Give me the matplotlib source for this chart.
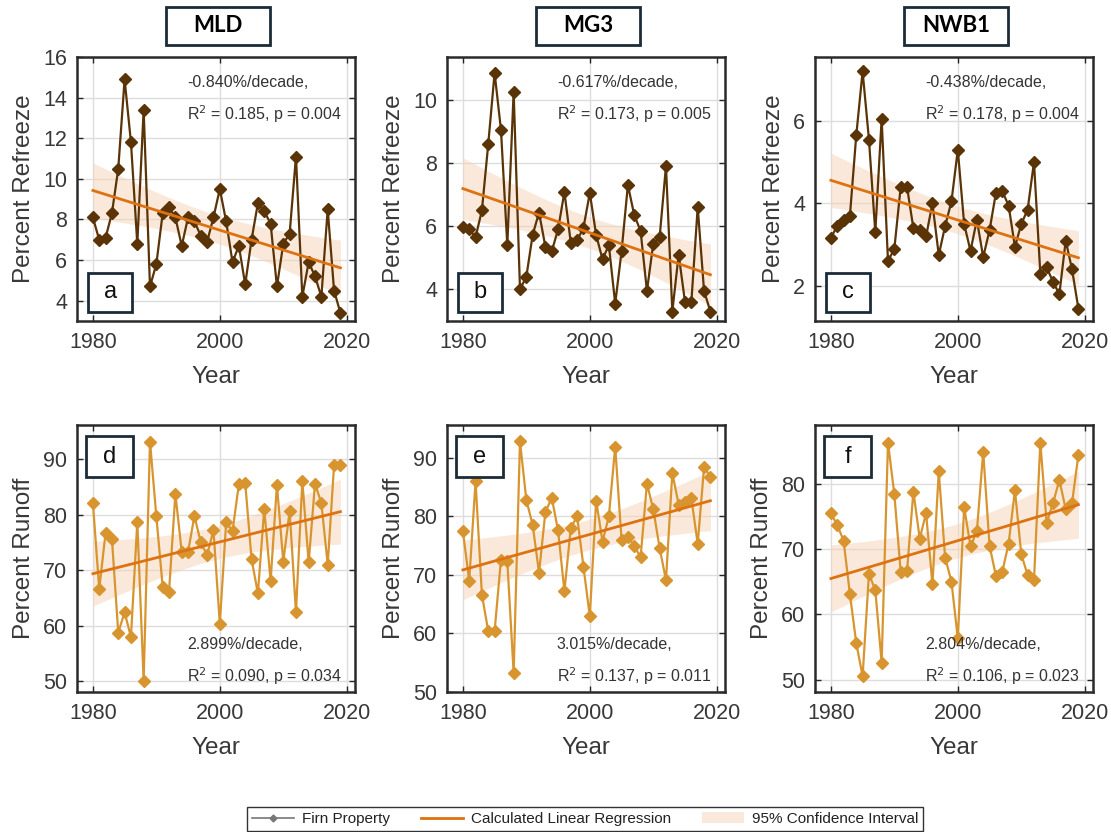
import numpy as np
import matplotlib
matplotlib.use('Agg')
import matplotlib.pyplot as plt
from matplotlib.lines import Line2D
from matplotlib.patches import Patch, Rectangle


# ----------------- Data -----------------
years = np.arange(1980, 2020)

refreeze_mld = [8.1, 7.0, 7.1, 8.3, 10.5, 14.9, 11.8, 6.8, 13.4, 4.7,
                5.8, 8.3, 8.6, 8.1, 6.7, 8.1, 7.9, 7.2, 6.9, 8.1,
                9.5, 7.9, 5.9, 6.7, 4.8, 7.0, 8.8, 8.4, 7.8, 4.7,
                6.8, 7.3, 11.1, 4.2, 5.9, 5.2, 4.2, 8.5, 4.5, 3.4]
refreeze_mg3 = [5.97, 5.9, 5.65, 6.5, 8.6, 10.85, 9.05, 5.4, 10.25, 4.0,
                4.4, 5.73, 6.43, 5.35, 5.2, 5.9, 7.08, 5.48, 5.55, 5.95,
                7.05, 5.72, 4.95, 5.4, 3.55, 5.2, 7.3, 6.35, 5.85, 3.95,
                5.45, 5.65, 7.9, 3.3, 5.1, 3.6, 3.6, 6.6, 3.95, 3.3]
refreeze_nwb1 = [3.17, 3.45, 3.6, 3.7, 5.65, 7.2, 5.55, 3.3, 6.05, 2.6,
                 2.9, 4.4, 4.4, 3.4, 3.35, 3.2, 4.0, 2.75, 3.45, 4.05,
                 5.3, 3.5, 2.85, 3.6, 2.7, 3.35, 4.25, 4.3, 3.95, 2.95,
                 3.5, 3.85, 5.0, 2.3, 2.45, 2.1, 1.8, 3.1, 2.4, 1.45]

runoff_mld = [82.2, 66.6, 76.7, 75.7, 58.7, 62.4, 57.9, 78.7, 50.0, 93.2,
              79.7, 67.0, 66.1, 83.8, 73.3, 73.3, 79.8, 75.0, 72.7, 77.2,
              60.3, 78.7, 77.0, 85.5, 85.8, 72.0, 65.8, 81.1, 68.0, 85.4,
              71.5, 80.7, 62.4, 86.1, 71.4, 85.6, 82.1, 71.0, 88.9, 88.9]
runoff_mg3 = [77.5, 69.0, 86.0, 66.6, 60.4, 60.4, 72.6, 72.3, 53.3, 92.8,
              82.8, 78.5, 70.4, 80.7, 83.2, 77.6, 67.2, 78.0, 80.0, 71.4,
              62.9, 82.7, 75.7, 80.0, 91.9, 76.0, 76.5, 75.0, 73.0, 85.6,
              81.2, 74.6, 69.1, 87.4, 82.0, 82.5, 83.1, 75.3, 88.4, 86.8]
runoff_nwb1 = [75.5, 73.7, 71.3, 63.1, 55.6, 50.5, 66.2, 63.7, 52.6, 86.3,
               78.4, 66.5, 66.7, 78.8, 71.6, 75.5, 64.6, 81.9, 68.7, 65.0,
               56.3, 76.4, 70.4, 72.7, 84.9, 70.5, 65.9, 66.5, 70.8, 79.0,
               69.2, 66.0, 65.2, 86.3, 74.0, 77.0, 80.6, 76.1, 77.1, 84.4]

sites = ['MLD', 'MG3', 'NWB1']
panel_letters = ['a', 'b', 'c', 'd', 'e', 'f']
stats_text = [
    ['-0.840%/decade,', 'R$^2$ = 0.185, p = 0.004'],
    ['-0.617%/decade,', 'R$^2$ = 0.173, p = 0.005'],
    ['-0.438%/decade,', 'R$^2$ = 0.178, p = 0.004'],
    ['2.899%/decade,', 'R$^2$ = 0.090, p = 0.034'],
    ['3.015%/decade,', 'R$^2$ = 0.137, p = 0.011'],
    ['2.804%/decade,', 'R$^2$ = 0.106, p = 0.023'],
]

# ----------------- Style -----------------
refreeze_color = '#5A3307'
runoff_color = '#D8952F'
fit_color = '#DD7210'
ci_color = '#F6CFAE'
box_edge = '#1C2B38'
text_color = '#383838'

plt.rcParams['font.family'] = ['Liberation Sans', 'DejaVu Sans']


# ----------------- Functions -----------------
def fit_with_ci(x, y):
    # least squares line + 95% CI of the mean response
    x = np.asarray(x, dtype=float)
    y = np.asarray(y, dtype=float)
    n = len(x)
    slope, intercept = np.polyfit(x, y, 1)
    yhat = slope * x + intercept
    s = np.sqrt(np.sum((y - yhat) ** 2) / (n - 2))
    sxx = np.sum((x - x.mean()) ** 2)
    t = 2.024  # t(0.975, 38)
    half = t * s * np.sqrt(1 / n + (x - x.mean()) ** 2 / sxx)
    return yhat, yhat - half, yhat + half


def plot_panel(ax, y, color, ylim, yticks, letter, stats, top_row, ylabel):
    yhat, lo, hi = fit_with_ci(years, y)
    ax.fill_between(years, lo, hi, color=ci_color, alpha=0.45, lw=0, zorder=1)
    ax.plot(years, y, '-D', color=color, lw=1.6, markersize=6, zorder=3)
    ax.plot(years, yhat, color=fit_color, lw=2.0, zorder=4)

    ax.set_xlim(1977.5, 2021.3)
    ax.set_ylim(*ylim)
    ax.set_xticks([1980, 2000, 2020])
    ax.set_yticks(yticks)
    ax.tick_params(direction='in', top=True, right=True, labelsize=15.5,
                   length=4, width=1, colors='#262626', labelcolor=text_color,
                   pad=7)
    ax.tick_params(axis='x', pad=8)
    ax.grid(True, color='#DDDDDD', lw=1.0, zorder=0)
    ax.set_axisbelow(True)
    for sp in ax.spines.values():
        sp.set_linewidth(1.8)
        sp.set_color('#2A2A2A')
    ax.set_xlabel('Year', fontsize=17.5, color=text_color, labelpad=9)
    ax.set_ylabel(ylabel, fontsize=17.5, color=text_color, labelpad=6)

    # letter box
    if top_row:
        bx, by, bw, bh = 0.04, 0.034, 0.158, 0.148
        tx, ty, tva = 0.395, 0.93, 'top'
    else:
        bx, by, bw, bh = 0.034, 0.805, 0.166, 0.152
        tx, ty, tva = 0.395, 0.02, 'bottom'
    ax.add_patch(Rectangle((bx, by), bw, bh, transform=ax.transAxes,
                           facecolor='white', edgecolor=box_edge, lw=2, zorder=6))
    ax.text(bx + bw / 2, by + bh / 2, letter, transform=ax.transAxes,
            ha='center', va='center', fontsize=17, color='#111111', zorder=7)

    ax.text(tx, ty, stats[0] + '\n' + stats[1], transform=ax.transAxes,
            ha='left', va=tva, fontsize=11.5, color='#333333',
            linespacing=1.75, zorder=7)


# ----------------- Main -----------------
def main():
    fig = plt.figure(figsize=(11.11, 8.32), dpi=100)

    lefts = [77, 447, 815]
    w = 278
    top_row = (57, 321)
    bot_row = (425, 692)
    W, H = 1111, 832

    refreeze = [refreeze_mld, refreeze_mg3, refreeze_nwb1]
    runoff = [runoff_mld, runoff_mg3, runoff_nwb1]
    ylims_top = [(3.0, 16.0), (3.0, 11.35), (1.15, 7.55)]
    yticks_top = [range(4, 17, 2), [4, 6, 8, 10], [2, 4, 6]]
    ylims_bot = [(48.0, 96.2), (50.0, 95.6), (48.1, 89.0)]
    yticks_bot = [range(50, 91, 10), range(50, 91, 10), range(50, 81, 10)]

    for i in range(3):
        l = lefts[i]
        ax = fig.add_axes([l / W, 1 - top_row[1] / H, w / W,
                           (top_row[1] - top_row[0]) / H])
        plot_panel(ax, refreeze[i], refreeze_color, ylims_top[i], yticks_top[i],
                   panel_letters[i], stats_text[i], True, 'Percent Refreeze')

        ax2 = fig.add_axes([l / W, 1 - bot_row[1] / H, w / W,
                            (bot_row[1] - bot_row[0]) / H])
        plot_panel(ax2, runoff[i], runoff_color, ylims_bot[i], yticks_bot[i],
                   panel_letters[i + 3], stats_text[i + 3], False, 'Percent Runoff')

        # site title box above the column
        cx = l + w / 2 + 2
        bw, bh = 104, 38
        fig.add_artist(Rectangle(((cx - bw / 2) / W, 1 - 45 / H), bw / W, bh / H,
                                 transform=fig.transFigure, facecolor='white',
                                 edgecolor=box_edge, lw=2))
        fig.text(cx / W, 1 - 26 / H, sites[i], ha='center', va='center',
                 fontsize=16, fontweight='bold', family=['Lato', 'DejaVu Sans'])

    handles = [
        Line2D([], [], color='#777777', lw=1.2, marker='D', markersize=3.5),
        Line2D([], [], color=fit_color, lw=2.0),
        Patch(facecolor=ci_color, alpha=0.45, edgecolor='none'),
    ]
    labels = ['Firn Property', 'Calculated Linear Regression', '95% Confidence Interval']
    leg = fig.legend(handles, labels, loc='center', bbox_to_anchor=(585 / W, 1 - 819 / H),
                     ncol=3, fontsize=11, frameon=True, fancybox=False,
                     handlelength=2.8, columnspacing=2.0, borderpad=0.3,
                     handletextpad=0.5)
    leg.get_frame().set_edgecolor('black')
    leg.get_frame().set_linewidth(1.0)
    for txt in leg.get_texts():
        txt.set_color('#222222')

    fig.savefig('out.png', dpi=100)
    plt.close(fig)


if __name__ == '__main__':
    main()
